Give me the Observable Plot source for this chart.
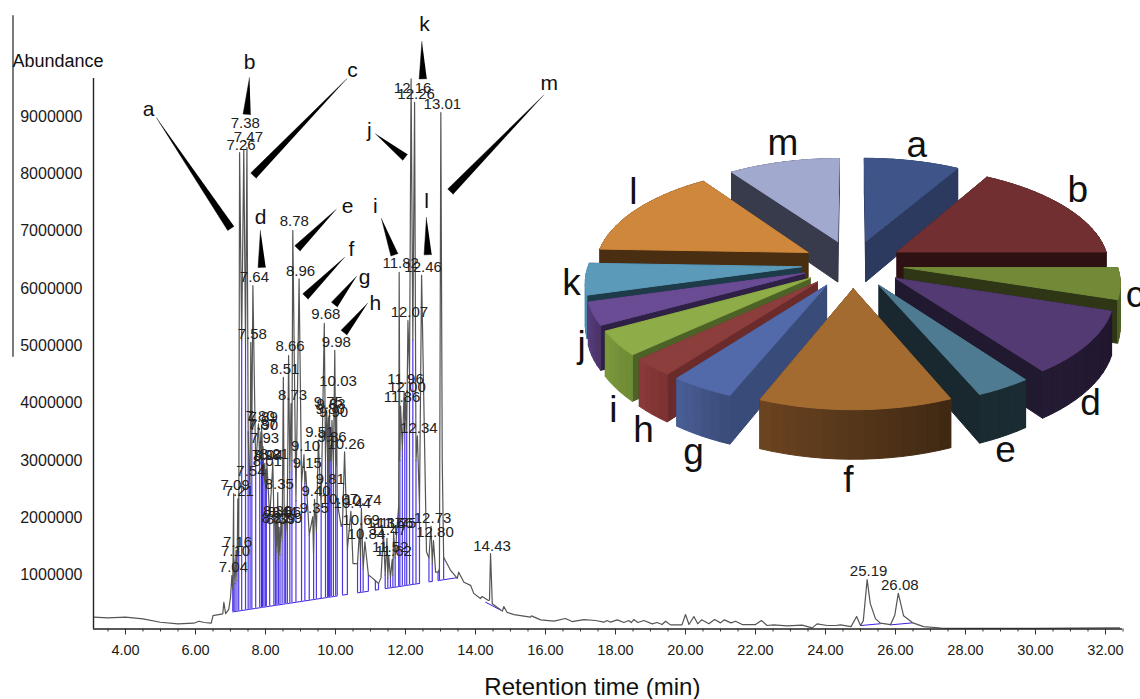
<!DOCTYPE html>
<html>
<head>
<meta charset="utf-8">
<script src="https://cdn.jsdelivr.net/npm/d3@7"></script>
<script src="https://cdn.jsdelivr.net/npm/@observablehq/plot@0.6"></script>
<style>
html,body{margin:0;padding:0;background:#fff;overflow:hidden}
#stage{position:relative;width:1140px;height:699px;overflow:hidden}
#stage svg{position:absolute;left:0;top:0;background:transparent;max-width:none}
</style>
</head>
<body>
<div id="stage"></div>
<script>
// ---- Chromatogram values: retention time (min), abundance (millions) ----
const peakRt = [7.04,7.09,7.10,7.16,7.21,7.26,7.38,7.47,7.54,7.58,7.64,7.80,7.87,7.89,7.90,7.93,7.98,8.01,8.04,8.21,
  8.27,8.30,8.35,8.39,8.44,8.51,8.56,8.59,8.66,8.73,8.78,8.96,9.10,9.15,9.35,9.40,9.51,9.68,9.75,9.80,
  9.81,9.83,9.86,9.90,9.98,10.03,10.07,10.26,10.44,10.69,10.74,10.84,11.37,11.47,11.52,11.62,11.66,11.75,11.82,11.86,
  11.96,12.00,12.07,12.16,12.26,12.34,12.46,12.73,12.80,13.01,14.43,25.19,26.08];
const peakTop = [.99,2.42,1.27,1.43,2.33,8.37,8.43,8.46,2.67,5.06,6.05,3.64,3.5,3.6,3.47,3.24,2.95,2.84,2.95,2.96,
  1.85,1.97,2.44,1.83,1.95,4.45,1.95,1.85,4.83,3.99,7.01,6.17,3.1,2.81,2.02,2.32,3.35,5.39,3.87,3.75,
  2.53,3.85,3.26,3.7,4.92,4.1,2.19,3.15,2.11,1.81,2.16,1.58,1.76,1.64,1.34,1.27,1.76,1.76,6.28,3.95,
  4.2,4.1,5.44,9.66,9.25,3.43,6.23,1.85,1.6,9.07,1.375,.92,.68];
const peakLabelAt = [1.13,2.56,1.41,1.57,2.47,8.50,8.88,8.64,2.81,5.21,6.19,3.78,3.64,3.75,3.61,3.38,3.09,2.98,3.09,3.10,
  1.99,2.11,2.58,1.97,2.09,4.59,2.09,1.99,4.99,4.13,7.17,6.31,3.24,2.95,2.16,2.46,3.49,5.55,4.01,3.89,
  2.67,3.99,3.40,3.85,5.06,4.38,2.33,3.29,2.25,1.95,2.30,1.72,1.90,1.78,1.48,1.41,1.90,1.90,6.44,4.10,
  4.41,4.27,5.58,9.49,9.39,3.57,6.38,1.99,1.74,9.21,1.5,1.06,.83];
// valleys: [rt, abundance, integration baseline under it (null = not integrated)]
const valleys = [[7.065,.75,.357],[7.095,1.1,.359],[7.13,.85,.363],[7.185,.9,.368],[7.235,1.4,.372],[7.32,5.1,.38],[7.43,5.0,.39],[7.505,3.5,.398],[7.56,2.6,.403],[7.61,3.5,.407],
  [7.72,2.9,.418],[7.835,3.0,.428],[7.885,3.2,.433],[7.895,3.3,.434],[7.915,3.0,.436],[7.955,2.6,.44],[7.995,2.6,.443],[8.025,2.5,.446],[8.12,2.0,.455],[8.24,2.0,.466],
  [8.285,1.5,.47],[8.325,1.4,.474],[8.37,1.25,.478],[8.415,1.35,.482],[8.475,1.6,.488],[8.535,1.9,.493],[8.575,1.7,.497],[8.625,2.2,.502],[8.695,2.8,.508],[8.755,3.0,.514],
  [8.87,2.3,.525],[9.03,2.6,.54],[9.125,2.6,.548],[9.25,1.7,.56],[9.375,1.3,.572],[9.455,1.75,.579],[9.59,2.2,.592],[9.715,3.0,.603],[9.775,3.2,.609],[9.805,2.6,.612],
  [9.82,2.5,.613],[9.845,3.0,.615],[9.88,3.0,.619],[9.94,2.9,.624],[10.005,2.9,.63],[10.05,2.2,.635],[10.165,1.85,null],[10.2,1.9,.649],[10.34,1.45,.662],[10.5,1.2,null],
  [10.63,1.2,.689],[10.715,1.3,.696],[10.79,1.1,.703],[10.94,1.0,.717],[11.05,.95,null],[11.14,.9,.736],[11.23,.85,.745],[11.3,.95,null],[11.42,1.0,.762],[11.495,.95,.769],
  [11.57,.95,.776],[11.64,1.0,.782],[11.705,1.3,.788],[11.805,2.2,.797],[11.84,3.0,.801],[11.91,3.2,.807],[11.98,3.5,.814],[12.035,3.5,.819],[12.115,4.5,.827],[12.21,5.1,.836],
  [12.3,3.0,.844],[12.4,2.2,.853],[12.6,1.4,null],[12.67,1.3,.882],[12.765,1.2,.887],[12.86,1.05,null],[12.93,1.05,.903],[12.97,1.1,.906],[13.09,1.31,.918],[13.48,.94,.954]];
// the rest of the trace, [rt, abundance]
const background = [[3.09,.265],[3.5,.253],[4,.264],[4.5,.235],[5,.176],[5.5,.148],[5.95,.159],[6.1,.194],[6.25,.171],[6.45,.159],[6.5,.293],[6.78,.323],[6.81,.525],[6.86,.325],[6.95,.40],[7.0,.6],
  [13.05,3.0],[13.29,1.08],[13.52,1.05],[13.67,.875],[13.86,.82],[13.95,.68],[14.14,.59],[14.19,.625],[14.37,.555],[14.40,.56],[14.48,.5],[14.77,.37],[14.81,.45],[14.9,.35],
  [15.1,.31],[15.57,.264],[15.6,.287],[15.86,.218],[16.24,.194],[16.57,.241],[16.76,.188],[17.1,.223],[17.43,.206],[17.67,.177],[17.76,.206],[17.86,.177],[18.05,.218],[18.24,.171],[18.38,.206],[18.45,.171],[18.52,.223],[18.64,.171],[18.81,.206],[19.05,.148],[19.19,.171],[19.33,.136],[19.43,.194],[19.57,.13],[19.9,.13],[20.0,.31],[20.1,.136],[20.24,.276],[20.35,.148],[20.46,.218],[20.67,.148],[20.83,.223],[21.0,.165],[21.11,.218],[21.3,.165],[21.43,.194],[21.62,.136],[22.0,.136],[22.17,.206],[22.33,.119],[22.52,.13],[22.9,.113],[23.33,.125],[23.62,.078],[23.76,.148],[24.05,.119],[24.29,.119],[24.43,.13],[24.73,.10],[24.89,.275],[25.0,.12],[25.08,.2],
  [25.28,.5],[25.43,.235],[25.57,.16],[25.86,.135],[25.98,.3],[26.23,.29],[26.48,.17],[26.8,.10],[27.3,.075],[28,.07],[30,.07],[31,.075],[32.4,.08]];
const extraBaselines = [[[14.29,.525],[14.71,.39]],[[25.0,.118],[25.57,.15]],[[25.86,.13],[26.48,.165]]];
const yTicks = [1,2,3,4,5,6,7,8,9];
const xMajor = d3.range(4,33,2);
const xMinor = d3.range(3.5,32.6,.5).filter(v=>v%2!==0);

// callouts: tip and base [rt, abundance], and letter position
const calloutNames = ["a","b","c","d","e","f","g","h","i","j","k","l","m"];
const calloutTip  = [[4.886,8.98],[7.543,9.68],[10.326,9.66],[7.857,7.01],[10.02,7.38],[10.257,6.54],[10.6,6.21],[10.914,5.74],[11.314,7.22],[11.143,8.70],[12.469,10.31],[12.6,7.24],[15.943,9.37]];
const calloutBase = [[7.011,7.05],[7.469,9.04],[7.657,7.97],[7.897,6.37],[8.914,6.70],[9.143,5.86],[9.971,5.72],[10.246,5.23],[11.686,6.59],[11.989,8.29],[12.5,9.66],[12.64,6.59],[13.286,7.69]];
const calloutLetter = [[4.657,9.12],[7.543,9.94],[10.486,9.80],[7.857,7.24],[10.343,7.43],[10.457,6.68],[10.83,6.2],[11.14,5.74],[11.14,7.43],[10.97,8.77],[12.54,10.61],[12.6,7.52],[16.11,9.58]];

// ---- Pie values: share of total (%) ----
const pieNames  = ["a","b","c","d","e","f","g","h","i","j","k","l","m"];
const pieShares = [8.33,16.67,5,10,3.61,12.5,4.17,2.78,3.89,3.61,5,14.72,9.72];
const pieTop  = ["#3f5488","#722f31","#728a38","#533a72","#4e7b92","#a36b2f","#5269aa","#8c3e3c","#8eac47","#6a4c94","#5b9ab8","#cf873b","#a2a9cf"];
const pieWall = ["#2c3a60","#2e1113","#2e3616","#21192f","#18282e","#4a3016","#394b78","#6b2b2b","#4d6226","#2f2145","#1d3b48","#4a2e12","#383b4b"];
const pieRimA = ["#2c3a60","#2e1113","#4f6128","#241a33","#1a2b32","#6b4420","#4a5f98","#8b3a3a","#7d9a3e","#5a4080","#4e8dab","#4a2e12","#383b4b"];
const pieRimB = ["#2c3a60","#2e1113","#4f6128","#21162e","#1a2b32","#3e2813","#3a4b78","#7c3232","#6d8a35","#4a3268","#4e8dab","#4a2e12","#383b4b"];
const pieLabelAt = [[.247,-.457],[.869,-.283],[1.09,.122],[.918,.539],[.59,.72],[-.017,.837],[-.615,.729],[-.808,.644],[-.924,.566],[-1.047,.315],[-1.086,.076],[-.847,-.275],[-.27,-.465]];

// ---- Tables ----
const font = "'Liberation Sans', Arial, sans-serif";
const peaks = peakRt.map((rt,i)=>({rt,top:peakTop[i],labelAt:peakLabelAt[i],text:rt.toFixed(2)}));
const trace = [...background.map(([rt,v])=>({rt,v})),
               ...peaks.map(p=>({rt:p.rt,v:p.top})),
               ...valleys.map(([rt,v])=>({rt,v}))].sort((a,b)=>a.rt-b.rt);
const fills = valleys.map(([rt,v,base])=>({rt,v,base}));
const integrated = fills.filter(d=>d.base!=null);

// wedge polygons: scale ratios only convert a constant pen width
const pxX=35, pxY=57.3, half=3.8;
const wedges = calloutNames.flatMap((name,i)=>{
  const [tx,ty]=calloutTip[i],[bx,by]=calloutBase[i];
  const dx=(bx-tx)*pxX, dy=-(by-ty)*pxY, len=Math.hypot(dx,dy);
  const nx=-dy/len*half, ny=dx/len*half;
  return [{name,rt:tx,v:ty},{name,rt:bx+nx/pxX,v:by-ny/pxY},{name,rt:bx-nx/pxX,v:by+ny/pxY}];
});

const chart = Plot.plot({
  width:1140,height:699,marginLeft:93,marginRight:18,marginTop:78,marginBottom:70.5,
  style:{fontFamily:font,fontSize:"14.5px",color:"#1a1a1a",background:"transparent"},
  x:{domain:[3.086,32.486]},
  y:{domain:[.058,9.665]},
  marks:[
    Plot.ruleX(integrated,{x:"rt",y1:"base",y2:"v",stroke:"#3a22e0",strokeWidth:1.2,strokeOpacity:.9}),
    Plot.line(fills,{x:"rt",y:"base",stroke:"#3a22e0",strokeWidth:1}),
    ...extraBaselines.map(seg=>Plot.line(seg,{x:d=>d[0],y:d=>d[1],stroke:"#3a22e0",strokeWidth:1})),
    Plot.line(trace,{x:"rt",y:"v",stroke:"#555",strokeWidth:1.2}),
    Plot.ruleX([3.086],{y1:.058,y2:9.665,stroke:"#222",strokeWidth:1.4}),
    Plot.ruleY([.058],{x1:3.086,x2:32.486,stroke:"#222",strokeWidth:1.6}),
    Plot.ruleX([.786],{y1:4.8,y2:10.76,stroke:"#222",strokeWidth:1.2}),
    Plot.axisX({ticks:xMinor,tickFormat:()=>"",tickSize:3,label:null,stroke:"#333"}),
    Plot.axisX({ticks:xMajor,tickFormat:d=>d.toFixed(2),tickSize:6,tickPadding:10,label:null,stroke:"#333",fill:"#1a1a1a",fontSize:14.5}),
    Plot.axisY({ticks:yTicks,tickFormat:d=>d3.format("d")(d*1e6),tickSize:0,tickPadding:11,label:null,fill:"#1a1a1a",fontSize:16}),
    Plot.text(peaks,{x:"rt",y:"labelAt",text:"text",dx:1.5,fontSize:15,fill:"#222"}),
    Plot.line(wedges,{x:"rt",y:"v",z:"name",fill:"#000",stroke:"#000",strokeWidth:.5}),
    Plot.text(calloutNames.map((name,i)=>({name,rt:calloutLetter[i][0],v:calloutLetter[i][1]})),{x:"rt",y:"v",text:"name",fontSize:21,fill:"#111"}),
    Plot.text(["Abundance"],{x:2.07,y:9.96,text:d=>d,fontSize:18,fill:"#111"}),
    Plot.text(["Retention time (min)"],{x:17.34,y:-.96,text:d=>d,fontSize:24,fill:"#111"})
  ]
});

// ---- 3D pie: shares -> plan angles -> perspective projection through scales ----
const explode=.2, radius=.82, persp=.155, flatten=.465, depth=.161;
const proj=(px,py,down=0)=>{const s=1/(1-persp*py);return {x:px*s,y:(flatten*py+down*depth)*s};};
let cum=0;
const slices = pieShares.map((share,i)=>{
  const a0=cum*3.6*Math.PI/180; cum+=share; const a1=cum*3.6*Math.PI/180; const mid=(a0+a1)/2;
  return {i,a0,a1,apex:[explode*Math.sin(mid),-explode*Math.cos(mid)]};
}).sort((p,q)=>p.apex[1]-q.apex[1]);
const faces=[];
let fid=0;
const addFace=(pts,color)=>{const id=fid++;for(const p of pts)faces.push({x:p.x,y:p.y,face:id,color});};
for(const s of slices){
  const arc=[];const n=Math.max(3,Math.ceil((s.a1-s.a0)/(3*Math.PI/180)));
  for(let k=0;k<=n;k++){const t=s.a0+(s.a1-s.a0)*k/n;arc.push([s.apex[0]+radius*Math.sin(t),s.apex[1]-radius*Math.cos(t)]);}
  const walls=[];
  const wall=(p,q,color)=>walls.push({m:(p[1]+q[1])/2,pts:[proj(p[0],p[1]),proj(q[0],q[1]),proj(q[0],q[1],1),proj(p[0],p[1],1),proj(p[0],p[1])],color});
  wall(s.apex,arc[0],pieWall[s.i]);
  wall(s.apex,arc[n],pieWall[s.i]);
  const mix=d3.interpolateRgb(pieRimA[s.i],pieRimB[s.i]);
  // rim colours run from screen-left to screen-right
  const leftFirst=arc[0][0]<arc[n][0];
  for(let k=0;k<n;k++){const t=(k+.5)/n;wall(arc[k],arc[k+1],mix(leftFirst?t:1-t));}
  walls.sort((p,q)=>p.m-q.m).forEach(w=>addFace(w.pts,w.color));
  addFace([s.apex,...arc,s.apex].map(p=>p.x!==undefined?p:proj(p[0],p[1])),pieTop[s.i]);
}
const pie = Plot.plot({
  width:1140,height:699,margin:0,
  style:{fontFamily:font,background:"transparent"},
  x:{domain:[-852.3/259,(1140-852.3)/259],range:[0,1140],axis:null},
  y:{domain:[-263.3/259,(699-263.3)/259],range:[0,699],axis:null},
  color:{type:"identity"},
  marks:[
    Plot.line(faces,{x:"x",y:"y",z:"face",fill:"color",stroke:"color",strokeWidth:1}),
    Plot.text(pieNames.map((name,i)=>({name,x:pieLabelAt[i][0],y:pieLabelAt[i][1]})),{x:"x",y:"y",text:"name",fontSize:37,fill:"#111"})
  ]
});
const stage=document.getElementById("stage");
stage.append(chart,pie);
</script>
</body>
</html>
